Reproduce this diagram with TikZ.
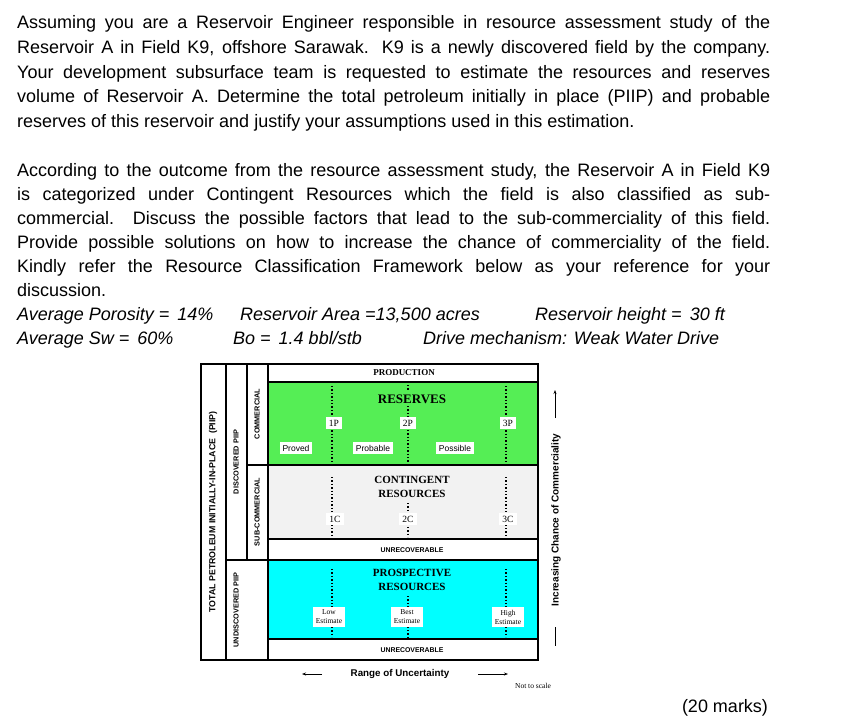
\documentclass[tikz,border=0pt]{standalone}
\usepackage{fontspec}
\setmainfont{Liberation Sans}
\newfontfamily\serifft{Liberation Serif}
\usetikzlibrary{arrows.meta,positioning}
\definecolor{resgreen}{HTML}{55EE55}
\definecolor{prosp}{HTML}{00FFFF}
\definecolor{contgrey}{HTML}{F2F2F2}
\newcommand{\fullline}[1]{\hbox to 753pt{#1}}
\begin{document}
\begin{tikzpicture}[x=1pt,y=-1pt,
    txtline/.style={anchor=base west, inner sep=0pt, font=\fontsize{18}{22}\selectfont},
    param/.style={anchor=base west, inner sep=0pt, font=\fontsize{18}{22}\selectfont\itshape},
    cell/.style={draw, line width=1.6pt},
    title/.style={font=\serifft\bfseries\fontsize{13}{14}\selectfont, align=center},
    side/.style={rotate=90, font=\bfseries\fontsize{7.3}{8}\selectfont},
    tag/.style={fill=white, inner sep=3pt, font=\serifft\fontsize{9.5}{10}\selectfont, align=center},
    cat/.style={fill=white, inner sep=3pt, font=\fontsize{8.5}{9}\selectfont},
    small/.style={font=\bfseries\fontsize{6.9}{7}\selectfont},
    dots/.style={dotted, line width=1.4pt}
]
\useasboundingbox (0,0) rectangle (857,726);
% question text
\node[txtline] (q1) at (17,28) {\fullline{Assuming you are a Reservoir Engineer responsible in resource assessment study of the}};
\node[txtline] (q2) at (17,53) {\fullline{Reservoir A in Field K9, offshore Sarawak. K9 is a newly discovered field by the company.}};
\node[txtline] (q3) at (17,78) {\fullline{Your development subsurface team is requested to estimate the resources and reserves}};
\node[txtline] (q4) at (17,102) {\fullline{volume of Reservoir A. Determine the total petroleum initially in place (PIIP) and probable}};
\node[txtline] (q5) at (17,127) {reserves of this reservoir and justify your assumptions used in this estimation.};
\node[txtline] (p1) at (17,176) {\fullline{According to the outcome from the resource assessment study, the Reservoir A in Field K9}};
\node[txtline] (p2) at (17,200) {\fullline{is categorized under Contingent Resources which the field is also classified as sub-}};
\node[txtline] (p3) at (17,224) {\fullline{commercial. Discuss the possible factors that lead to the sub-commerciality of this field.}};
\node[txtline] (p4) at (17,248) {\fullline{Provide possible solutions on how to increase the chance of commerciality of the field.}};
\node[txtline] (p5) at (17,272) {\fullline{Kindly refer the Resource Classification Framework below as your reference for your}};
\node[txtline] (p6) at (17,296) {discussion.};
\node[param] (por) at (17,320) {Average Porosity = \,14\%};
\node[param] (area) at (240,320) {Reservoir Area =13,500 acres};
\node[param] (hgt) at (535,320) {Reservoir height = \,30 ft};
\node[param] (sw) at (17,344) {Average Sw = \,60\%};
\node[param] (bo) at (233,344) {Bo = \,1.4 bbl/stb};
\node[param] (drive) at (423,344) {Drive mechanism: Weak Water Drive};
% framework
\fill[resgreen] (268,382) rectangle (538,465);
\fill[contgrey] (268,465) rectangle (538,539);
\fill[prosp] (268,560) rectangle (538,639);
\draw[cell] (201,364) rectangle (538,660);
\draw[cell] (226,364) -- (226,660);
\draw[cell] (247,364) -- (247,560);
\draw[cell] (268,364) -- (268,660);
\draw[cell] (268,382) -- (538,382);
\draw[cell] (247,465) -- (538,465);
\draw[cell] (268,539) -- (538,539);
\draw[cell] (226,560) -- (538,560);
\draw[cell] (268,639) -- (538,639);
% dotted dividers
\draw[dots] (332,386) -- (332,462) (408,385) -- (408,391) (408,406) -- (408,462) (506,386) -- (506,462);
\draw[dots] (332,477) -- (332,537) (408,503) -- (408,537) (506,477) -- (506,537);
\draw[dots] (332,569) -- (332,637) (408,596) -- (408,637) (506,569) -- (506,637);
% labels
\node[title, font=\serifft\bfseries\fontsize{9}{10}\selectfont] (prod) at (404,373) {PRODUCTION};
\node[title] (res) at (412,399) {RESERVES};
\node[title, font=\serifft\bfseries\fontsize{11}{14}\selectfont] (cont) at (412,487) {CONTINGENT\\RESOURCES};
\node[small] (unr1) at (412,550) {UNRECOVERABLE};
\node[title, font=\serifft\bfseries\fontsize{11}{14}\selectfont] (pros) at (412,580) {PROSPECTIVE\\RESOURCES};
\node[small] (unr2) at (412,650) {UNRECOVERABLE};
\node[tag] (p1p) at (334,423) {1P};
\node[tag] (p2p) at (408,423) {2P};
\node[tag] (p3p) at (508,423) {3P};
\node[cat] (proved) at (296,448) {Proved};
\node[cat] (probable) at (373,448) {Probable};
\node[cat] (possible) at (455,448) {Possible};
\node[tag] (c1c) at (335,519) {1C};
\node[tag] (c2c) at (408,519) {2C};
\node[tag] (c3c) at (508,519) {3C};
\node[tag, font=\serifft\fontsize{7.5}{9}\selectfont] (low) at (329,617) {Low\\Estimate};
\node[tag, font=\serifft\fontsize{7.5}{9}\selectfont] (best) at (407,617) {Best\\Estimate};
\node[tag, font=\serifft\fontsize{7.5}{9}\selectfont] (high) at (508,617) {High\\Estimate};
\node[side, font=\bfseries\fontsize{8.8}{9}\selectfont] (piip) at (213,512) {TOTAL PETROLEUM INITIALLY-IN-PLACE \ (PIIP)};
\node[side] (disc) at (236,462) {DISCOVERED PIIP};
\node[side] (comm) at (257,414) {COMMERCIAL};
\node[side] (sub) at (257,512) {SUB-COMMERCIAL};
\node[side] (undisc) at (236,610) {UNDISCOVERED PIIP};
% uncertainty and commerciality arrows
\node[font=\bfseries\fontsize{9.8}{10}\selectfont] (range) at (400,674) {Range of Uncertainty};
\coordinate (rl1) at (322,674); \coordinate (rl2) at (302,674);
\coordinate (rr1) at (478,674); \coordinate (rr2) at (508,674);
\draw[-{Stealth[length=4pt]}, thick] (rl1) -- (rl2);
\draw[-{Stealth[length=4pt]}, thick] (rr1) -- (rr2);
\node[font=\serifft\fontsize{7.5}{8}\selectfont] (nts) at (533,686) {Not to scale};
\node[side, font=\bfseries\fontsize{10}{11}\selectfont] (incr) at (556,520) {Increasing Chance of Commerciality};
\coordinate (ca1) at (555,418); \coordinate (ca2) at (555,390);
\coordinate (cb1) at (555,627); \coordinate (cb2) at (555,646);
\draw[-{Stealth[length=4pt]}, thick] (ca1) -- (ca2);
\draw[thick] (cb1) -- (cb2);
\node[font=\fontsize{18}{22}\selectfont] (marks) at (725,708) {(20 marks)};
\end{tikzpicture}
\end{document}
